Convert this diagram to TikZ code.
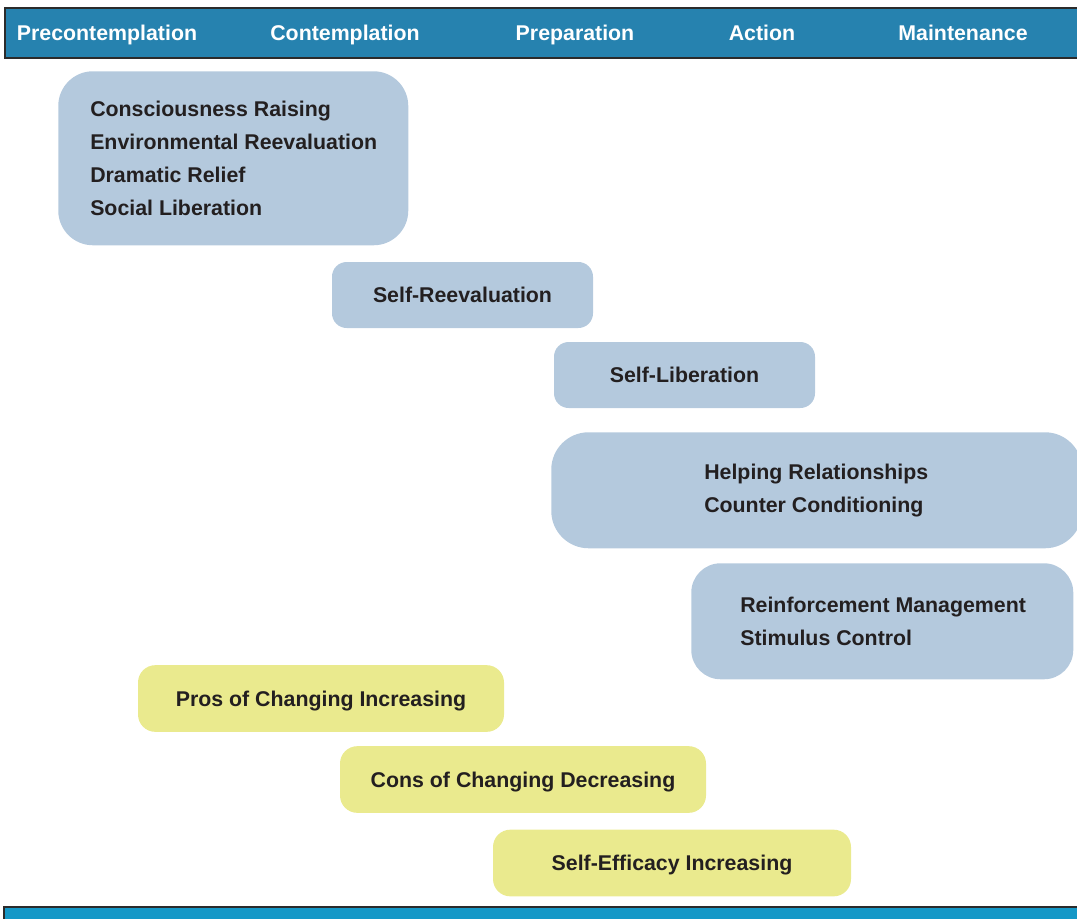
\documentclass[tikz,border=0pt]{standalone}
\usepackage{fontspec}
\setmainfont{Liberation Sans}
\usetikzlibrary{positioning}

\definecolor{barblue}{HTML}{2682AF}
\definecolor{footblue}{HTML}{1598C7}
\definecolor{procblue}{HTML}{B4C9DD}
\definecolor{balyellow}{HTML}{EAEA8E}
\definecolor{inkgray}{HTML}{231F20}
\definecolor{rulegray}{HTML}{2B2B2B}

\tikzstyle{stage} = [text=white, anchor=base, font=\bfseries\fontsize{16}{20}\selectfont]
\tikzstyle{process} = [rectangle, fill=procblue, text=inkgray, text height=11.5pt,
  text depth=0pt, font=\bfseries\fontsize{16}{20}\selectfont]
\tikzstyle{plate} = [rectangle, fill=procblue, inner sep=0pt]
\tikzstyle{lines} = [text=inkgray, align=left, inner sep=0pt,
  font=\bfseries\fontsize{16}{24.75}\selectfont]
\tikzstyle{balance} = [rectangle, fill=balyellow, text=inkgray, rounded corners=13pt,
  minimum height=50pt, text height=11.5pt, text depth=0pt,
  font=\bfseries\fontsize{16}{20}\selectfont]

\begin{document}
\begin{tikzpicture}[x=0.75pt, y=-0.75pt]
\useasboundingbox (0,0) rectangle (1077,918);
% stage bars
\draw[fill=barblue, draw=rulegray, line width=1.5pt] (5,8) rectangle (1095,58);
\draw[fill=footblue, draw=rulegray, line width=1.5pt] (4,907) rectangle (1095,935);
\node [stage] (Pre)  at (107,40) {Precontemplation};
\node [stage] (Con)  at (345,40) {Contemplation};
\node [stage] (Prep) at (575,40) {Preparation};
\node [stage] (Act)  at (762,40) {Action};
\node [stage] (Main) at (963,40) {Maintenance};
% processes of change
\node [plate, anchor=north west, rounded corners=26pt, minimum width=262.5pt,
  minimum height=130.5pt] (Early) at (58,71) {};
\node [lines, anchor=west, right=24pt of Early.west] (EarlyText)
  {Consciousness Raising\\Environmental Reevaluation\\Dramatic Relief\\Social Liberation};
\node [process, rounded corners=11pt, minimum width=195.75pt, minimum height=49.5pt]
  (SelfReev) at (462.5,295) {Self-Reevaluation};
\node [process, rounded corners=11pt, minimum width=195.75pt, minimum height=49.5pt]
  (SelfLib) at (684.5,375) {Self-Liberation};
\node [plate, anchor=north west, rounded corners=28pt, minimum width=398.25pt,
  minimum height=87pt] (Helping) at (551,432) {};
\node [lines, anchor=west, right=114.75pt of Helping.west] (HelpingText)
  {Helping Relationships\\Counter Conditioning};
\node [plate, anchor=north west, rounded corners=22pt, minimum width=286.5pt,
  minimum height=87pt] (Reinf) at (691,563) {};
\node [lines, anchor=west, right=36.75pt of Reinf.west] (ReinfText)
  {Reinforcement Management\\Stimulus Control};
% decisional balance and efficacy
\node [balance, minimum width=274.5pt] (Pros) at (321,698.5) {Pros of Changing Increasing};
\node [balance, minimum width=274.5pt] (Cons) at (523,779.5) {Cons of Changing Decreasing};
\node [balance, minimum width=268.5pt] (Efficacy) at (672,863) {Self-Efficacy Increasing};
\end{tikzpicture}
\end{document}
